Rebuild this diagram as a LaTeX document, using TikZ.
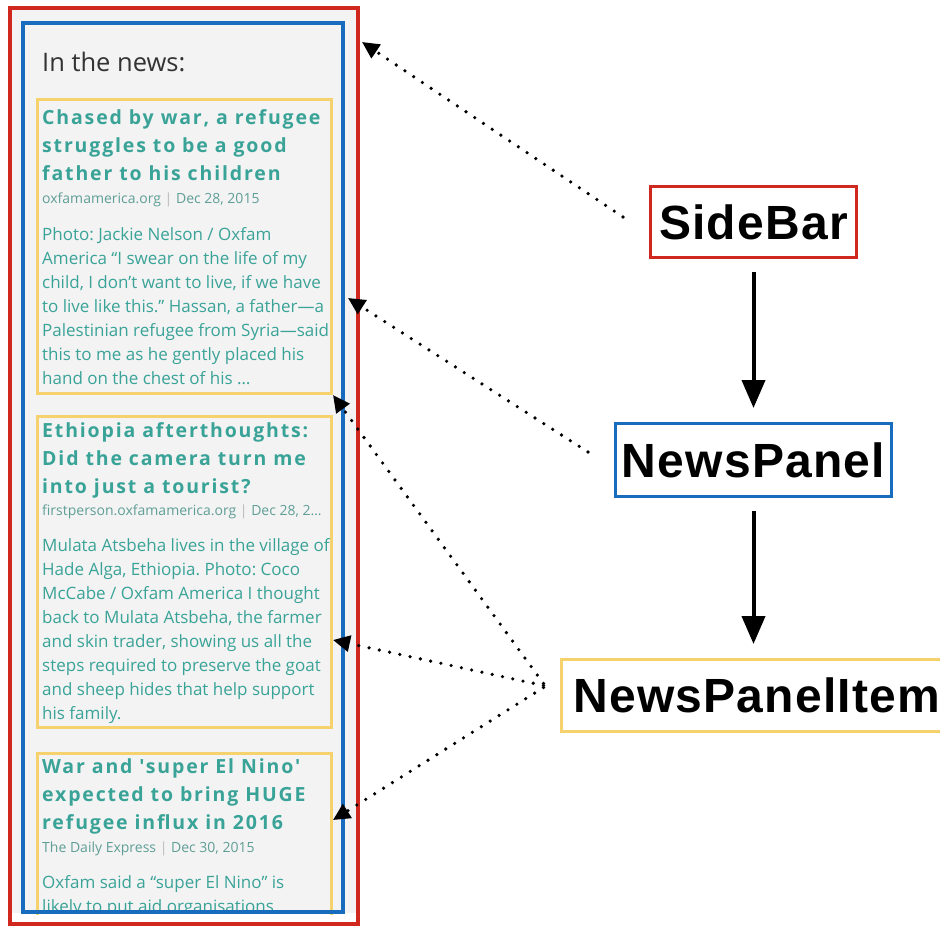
\documentclass[tikz,border=0pt]{standalone}
\usepackage{fontspec}
\setmainfont{Open Sans}
\newfontfamily\ttlfont[LetterSpace=9.5]{Open Sans}
\newfontfamily\lblfont[LetterSpace=2.5]{Liberation Sans}
\usetikzlibrary{arrows.meta}
\definecolor{redb}{RGB}{208,40,30}
\definecolor{blueb}{RGB}{24,108,190}
\definecolor{yelb}{RGB}{246,210,110}
\definecolor{tealt}{RGB}{58,163,152}
\definecolor{metat}{RGB}{95,158,150}
\definecolor{sept}{RGB}{185,185,185}
\definecolor{panelg}{RGB}{243,243,243}
\definecolor{headt}{RGB}{51,51,51}
\frenchspacing
\begin{document}
\begin{tikzpicture}[x=1pt,y=-1pt,
  tline/.style={anchor=base west,inner sep=0,text=tealt,font=\ttlfont\bfseries\fontsize{19.5}{19.5}\selectfont},
  mline/.style={anchor=base west,inner sep=0,text=metat,font=\fontsize{14}{14}\selectfont},
  bline/.style={anchor=base west,inner sep=0,text=tealt,font=\fontsize{17}{17}\selectfont},
  itembox/.style={draw=yelb,line width=3pt,inner sep=0},
  compbox/.style={draw=#1,line width=3pt,fill=white,inner sep=0,font=\lblfont\bfseries\fontsize{48}{48}\selectfont},
  dotarrow/.style={line width=3.6pt,dash pattern=on 0pt off 10.5pt,line cap=round,-{Triangle[length=17pt,width=16pt]}},
  solidarrow/.style={line width=4pt,-{Triangle[length=28pt,width=23pt]}}]
\useasboundingbox (0,0) rectangle (940,926);
\fill[white] (0,0) rectangle (940,926);
% panel background
\fill[panelg] (10,8) rectangle (358,913);
\node[anchor=base west,inner sep=0,text=headt,font=\fontsize{25.5}{25.5}\selectfont] (heading) at (42,71) {In the news:};

% item 1
\node[itembox,minimum width=294,minimum height=294] (item1) at (184,246) {};
\begin{scope}
\clip (39,100) rectangle (330,392);
\node[tline] (i1t1) at (42,124) {Chased by war, a refugee};
\node[tline] (i1t2) at (42,152) {struggles to be a good};
\node[tline] (i1t3) at (42,180) {father to his children};
\node[mline] (i1m) at (42,203) {oxfamamerica.org {\color{sept}|} Dec 28, 2015};
\node[bline] (i1b1) at (42,240) {Photo: Jackie Nelson / Oxfam};
\node[bline] (i1b2) at (42,264) {America “I swear on the life of my};
\node[bline] (i1b3) at (42,288) {child, I don’t want to live, if we have};
\node[bline] (i1b4) at (42,312) {to live like this.” Hassan, a father—a};
\node[bline] (i1b5) at (42,336) {Palestinian refugee from Syria—said};
\node[bline] (i1b6) at (42,360) {this to me as he gently placed his};
\node[bline] (i1b7) at (42,384) {hand on the chest of his …};
\end{scope}

% item 2
\node[itembox,minimum width=294,minimum height=311] (item2) at (184,571.5) {};
\begin{scope}
\clip (39,417) rectangle (330,726);
\node[tline] (i2t1) at (42,437) {Ethiopia afterthoughts:};
\node[tline] (i2t2) at (42,465) {Did the camera turn me};
\node[tline] (i2t3) at (42,493) {into just a tourist?};
\node[mline] (i2m) at (42,515) {firstperson.oxfamamerica.org {\color{sept}|} Dec 28, 2…};
\node[bline] (i2b1) at (42,551) {Mulata Atsbeha lives in the village of};
\node[bline] (i2b2) at (42,575) {Hade Alga, Ethiopia. Photo: Coco};
\node[bline] (i2b3) at (42,599) {McCabe / Oxfam America I thought};
\node[bline] (i2b4) at (42,623) {back to Mulata Atsbeha, the farmer};
\node[bline] (i2b5) at (42,647) {and skin trader, showing us all the};
\node[bline] (i2b6) at (42,671) {steps required to preserve the goat};
\node[bline] (i2b7) at (42,695) {and sheep hides that help support};
\node[bline] (i2b8) at (42,719) {his family.};
\end{scope}

% item 3 (cut off at the bottom)
\draw[draw=yelb,line width=3pt] (37,915) -- (37,753) -- (331,753) -- (331,915);
\coordinate (item3) at (331,780);
\begin{scope}
\clip (39,754) rectangle (330,910);
\node[tline] (i3t1) at (42,773) {War and 'super El Nino'};
\node[tline] (i3t2) at (42,801) {expected to bring HUGE};
\node[tline] (i3t3) at (42,829) {refugee influx in 2016};
\node[mline] (i3m) at (42,852) {The Daily Express {\color{sept}|} Dec 30, 2015};
\node[bline] (i3b1) at (42,888) {Oxfam said a “super El Nino” is};
\node[bline] (i3b2) at (42,912) {likely to put aid organisations};
\end{scope}

% news panel (blue) and sidebar (red)
\node[draw=blueb,line width=4pt,inner sep=0,minimum width=320,minimum height=889] (panel) at (183,467.5) {};
\node[draw=redb,line width=4pt,inner sep=0,minimum width=348,minimum height=916] (sidebarbox) at (184,466) {};

% component boxes
\node[compbox=redb,minimum width=206,minimum height=71] (sidebar) at (753.5,222) {SideBar};
\node[compbox=blueb,minimum width=276,minimum height=73] (newspanel) at (753.5,460) {NewsPanel};
\node[compbox=yelb,anchor=west,minimum height=72,inner xsep=12.5pt] (newsitem) at (559.5,695.5) {NewsPanelItem};

% solid arrows
\coordinate (nitop) at (newspanel.south |- newsitem.north);
\draw[solidarrow] ([yshift=-13pt]sidebar.south) -- ([yshift=14pt]newspanel.north);
\draw[solidarrow] ([yshift=-13pt]newspanel.south) -- ([yshift=14pt]nitop);

% dotted arrows
\coordinate (t1) at (362,42);
\coordinate (t2) at (348,298);
\coordinate (t3) at (333,395);
\coordinate (t4) at (333,640);
\coordinate (t5) at (333,820);
\draw[dotarrow] ([xshift=-26pt,yshift=5pt]sidebar.west) -- (t1);
\draw[dotarrow] ([xshift=-26pt,yshift=8pt]newspanel.west) -- (t2);
\draw[dotarrow] ([xshift=-16pt,yshift=12pt]newsitem.west) -- (t3);
\draw[dotarrow] ([xshift=-16pt,yshift=10pt]newsitem.west) -- (t4);
\draw[dotarrow] ([xshift=-16pt,yshift=8pt]newsitem.west) -- (t5);
\end{tikzpicture}
\end{document}
